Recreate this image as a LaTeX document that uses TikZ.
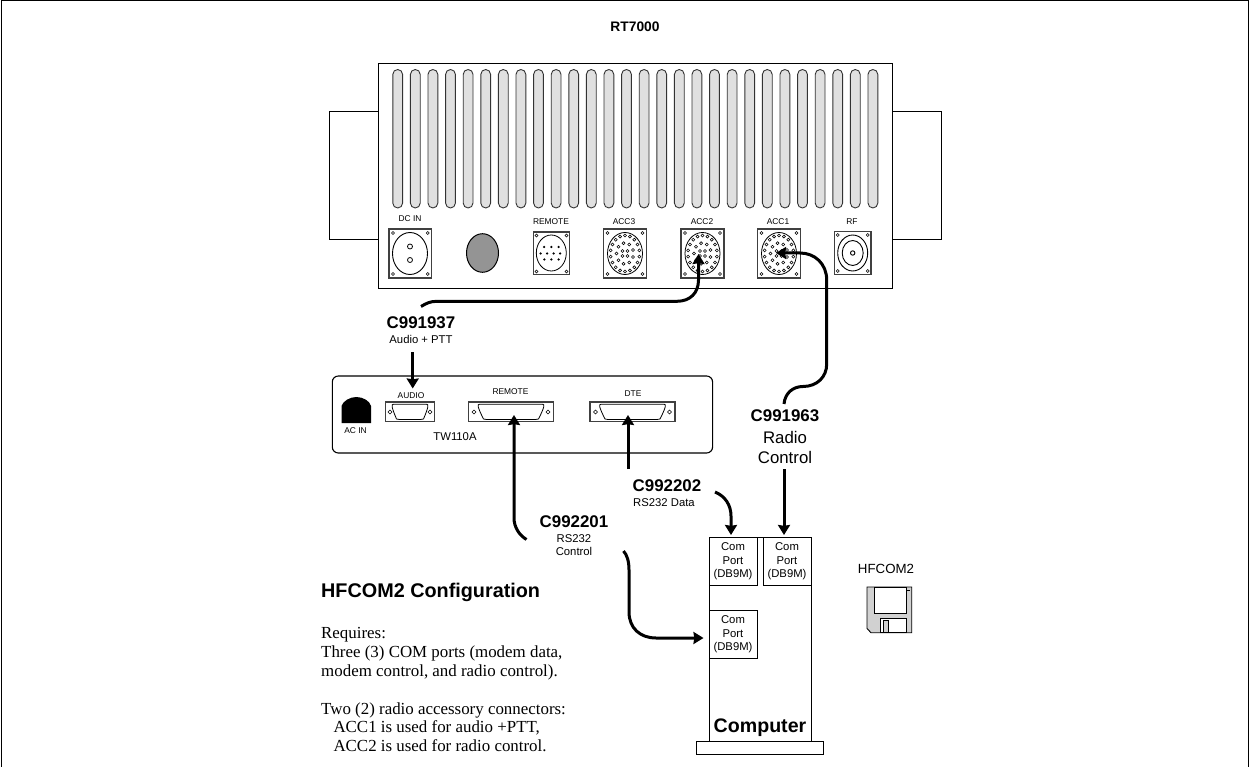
\documentclass[tikz,border=0pt]{standalone}
\usepackage{fontspec}
\setmainfont{Liberation Sans}
\newfontfamily\serifnotes{Liberation Serif}
\usetikzlibrary{arrows.meta}
\tikzset{
  lbl/.style={inner sep=0pt,align=center,font=\fontsize{#1}{#1}\selectfont},
  blbl/.style={inner sep=0pt,align=center,font=\fontsize{#1}{#1}\selectfont\bfseries},
  line/.style={draw=black,line width=1pt},
  plate/.style={draw=black!75,line width=1.1pt,fill=white},
  pin/.style={draw=black,line width=.55pt,fill=white},
  slot/.style={draw=black!80,line width=.9pt,fill=black!12,rounded corners=4.9pt},
  wire/.style={draw=black,line width=3pt},
  wirearrow/.style={wire,-{Stealth[inset=.8pt,length=10pt,width=12pt]}},
  combox/.style={draw=black,line width=1pt,fill=white,minimum width=48pt,minimum height=48pt,inner sep=0pt,align=center,font=\fontsize{11.3}{13.6}\selectfont},
}
\newcommand{\screws}[5]{% x1 x2 y1 y2 r
  \foreach \sx in {#1,#2}\foreach \sy in {#3,#4}\draw[pin] (\sx,\sy) circle (#5);
}
\newcommand{\accconn}[2]{% cx cy
  \draw[plate] (#1-21.5,#2-24.5) rectangle (#1+21.5,#2+24.5);
  \screws{#1-17.5}{#1+17.5}{#2-20.5}{#2+20.5}{1.5}
  \draw[line width=.8pt] (#1,#2) ellipse [x radius=17.5,y radius=21];
  \foreach \a in {0,20,...,340}\draw[pin] ({#1+14.5*cos(\a+10)},{#2+18*sin(\a+10)}) circle (1.5);
  \foreach \a in {0,40,...,320}\draw[pin] ({#1+8.5*cos(\a+20)},{#2+10.5*sin(\a+20)}) circle (1.5);
  \foreach \a in {45,135,225,315}\draw[pin] ({#1+3.5*cos(\a)},{#2+3.5*sin(\a)}) circle (1.5);
}
\newcommand{\dbconn}[7]{% plate x1 x2, y1 y2, shell top inset, bottom inset, screw inset
  \draw[plate] (#1,#3) rectangle (#2,#4);
  \draw[line width=.8pt] (#1+#5,#3+2.2) -- (#2-#5,#3+2.2) .. controls (#2-#5+2.5,#3+2.2) and (#2-#5+2,#3+5) .. (#2-#6,#4-2.5) .. controls (#2-#6-1,#4-2) .. (#2-#6-3,#4-2) -- (#1+#6+3,#4-2) .. controls (#1+#6+1,#4-2) .. (#1+#6,#4-2.5) .. controls (#1+#5-2,#3+5) and (#1+#5-2.5,#3+2.2) .. (#1+#5,#3+2.2) -- cycle;
  \draw[pin] (#1+#7,#3+10) circle (1.9);
  \draw[pin] (#2-#7,#3+10) circle (1.9);
}
\begin{document}
\begin{tikzpicture}[x=1pt,y=-1pt]
\useasboundingbox (0,0) rectangle (1250,767);
\fill[white] (0,0) rectangle (1250,767);
% frame
\draw[line] (1.2,767) -- (1.2,1) -- (1248.5,1) -- (1248.5,767);

% radio
\node[blbl=13.8] (rt) at (635,27) {RT7000};
\draw[line,fill=white] (329.5,111.5) rectangle (378,240);
\draw[line,fill=white] (892,111.5) rectangle (941,240);
\draw[line,fill=white] (378,63.5) rectangle (892,288.5);
\foreach \i in {0,...,27}{
  \path[slot] ({397.7+17.6*\i-4.9},69.5) rectangle ({397.7+17.6*\i+4.9},208);
}
% DC IN
\node[lbl=8.4] (ldc) at (410,219) {DC IN};
\draw[plate] (389,229) rectangle (431.7,278);
\screws{393}{427.7}{233}{274}{1.5}
\draw[line width=.9pt] (410,253.5) ellipse [x radius=17.5,y radius=21];
\draw[line width=.8pt] (410,246.5) circle (2.5);
\draw[line width=.8pt] (410,260) circle (2.5);
% blank plug
\draw[line width=1pt,fill=black!42] (482.5,253) ellipse [x radius=16,y radius=19.3];
% REMOTE
\node[lbl=8.4] (lrm) at (551,222) {REMOTE};
\draw[plate] (533.3,232) rectangle (569.7,274.5);
\screws{536.5}{566.5}{235.5}{271.5}{1.5}
\draw[line width=.8pt] (551.3,253) ellipse [x radius=15,y radius=18];
\foreach \px/\py in {544/247,551.3/247,558.5/247,540.5/253.5,547/253.5,553.5/253.5,560/253.5,544.3/259.5,551.3/259.5,558.5/259.5}
  \fill (\px,\py) circle (1.25);
% ACC
\node[lbl=8.4] (la3) at (624,222) {ACC3};
\node[lbl=8.4] (la2) at (702,222) {ACC2};
\node[lbl=8.4] (la1) at (778,222) {ACC1};
\node[lbl=8.4] (lrf) at (852,222) {RF};
\accconn{625}{253.5}
\accconn{702.5}{253.5}
\accconn{779}{253.5}
% RF
\draw[plate] (834.7,231.5) rectangle (871,274.5);
\screws{837.7}{867.7}{235}{271}{1.5}
\draw[line width=.9pt] (852.7,253) ellipse [x radius=15,y radius=18];
\draw[line width=.9pt] (852.7,253) ellipse [x radius=10.5,y radius=12.5];
\draw[line width=.9pt] (852.7,253) circle (2.2);

% modem
\draw[line width=1.1pt,fill=white,rounded corners=6pt] (332.3,376) rectangle (712.6,453);
\fill (341.5,423) -- (341.5,406) .. controls (343,401) and (350,397) .. (356.3,397) .. controls (363,397) and (370,401) .. (371,406) -- (371,423) -- cycle;
\node[lbl=8.4] (lac) at (355.5,431) {AC IN};
\node[lbl=8.4] (laud) at (411,395.5) {AUDIO};
\node[lbl=8.4] (lrem) at (510.5,392) {REMOTE};
\node[lbl=8.4] (ldte) at (633,393.5) {DTE};
\node[lbl=11.3] (tw) at (455,437) {TW110A};
\dbconn{385.5}{434.5}{402}{421.5}{8}{11}{4.5}
\dbconn{468.5}{553.5}{402}{421.5}{11}{15}{5.5}
\dbconn{590}{675}{402}{421.5}{11}{15}{5.5}

% computer
\draw[line,fill=white] (709,537.5) rectangle (811,741);
\draw[line,fill=white] (696,741) rectangle (823.5,754.5);
\node[combox] (com1) at (733,561.5) {Com\\Port\\(DB9M)};
\node[combox] (com2) at (787,561.5) {Com\\Port\\(DB9M)};
\node[combox] (com3) at (733,634.5) {Com\\Port\\(DB9M)};
\node[blbl=19.6] (pc) at (760,728) {Computer};

% floppy
\node[lbl=13.3] (hf) at (886,569) {HFCOM2};
\draw[line width=.9pt,fill=black!18] (867,587) -- (911.7,587) -- (911.7,632.7) -- (871,632.7) -- (867,628.5) -- cycle;
\draw[line width=.9pt,fill=white] (874,587) rectangle (906.5,613.5);
\draw[line width=.7pt] (906.5,590.5) -- (909.5,590.5);
\draw[line width=.9pt,fill=white] (880.5,618.5) rectangle (906.5,632.7);
\draw[line width=.8pt,fill=black!18] (883.5,620.5) rectangle (888,632.7);

% cable labels
\node[blbl=16.9] (c37) at (421,323) {C991937};
\node[lbl=11.3] (c37s) at (421,339) {Audio + PTT};
\node[blbl=16.9] (c63) at (785,416) {C991963};
\node[lbl=16.8,align=center,font=\fontsize{16.8}{20}\selectfont] (c63s) at (785,447) {Radio\\Control};
\node[blbl=16.9] (c02) at (667,486) {C992202};
\node[lbl=11.3] (c02s) at (664,503) {RS232 Data};
\node[blbl=16.9] (c01) at (574,522) {C992201};
\node[lbl=11.3,font=\fontsize{11.3}{12.5}\selectfont] (c01s) at (574,545) {RS232\\Control};

% wire ends
\coordinate (a2pin) at (698.5,254);
\coordinate (a1pin) at (776,253);
\coordinate (w37) at (421,306.5);
\coordinate (audiotop) at (412.7,352);
\coordinate (audiopin) at (412.7,388.5);
\coordinate (w63) at (784,404);
\coordinate (w63b) at (784,469);
\coordinate (remotepin) at (514,415);
\coordinate (w01a) at (526.5,539.5);
\coordinate (w01b) at (623.5,551);
\coordinate (w01c) at (656,638);
\coordinate (dtepin) at (628,415);
\coordinate (w02a) at (628,469);
\coordinate (w02b) at (715,492);
\coordinate (w02c) at (731,516);

% wires
\draw[wirearrow] (w37) .. controls (426,303.5) and (430,301.3) .. (437,301.3) -- (677,301.3) .. controls (690,301.3) and (698.5,293) .. (698.5,280) -- (a2pin);
\draw[wirearrow] (w63) .. controls (785,393) and (793,386.5) .. (803,386.5) .. controls (817,386.5) and (826.7,377) .. (826.7,364) -- (826.7,280) .. controls (826.7,264) and (815,253) .. (800,253) -- (a1pin);
\draw[wirearrow,shorten >=2pt] (w63b) -- (com2.north -| w63b);
\draw[wirearrow] (audiotop) -- (audiopin);
\draw[wirearrow] (w01a) .. controls (519,535) and (514,527) .. (514,518) -- (remotepin);
\draw[wirearrow,shorten >=5pt] (w01b) .. controls (627,555) and (629,561) .. (629,570) -- (629,612) .. controls (629,628) and (640,638) .. (w01c) -- (com3.west |- w01c);
\draw[wirearrow] (w02a) -- (dtepin);
\draw[wirearrow,shorten >=2pt] (w02b) .. controls (725,496) and (731,505) .. (w02c) -- (com1.north -| w02c);

% notes
\node[blbl=19.8,anchor=west] (cfg) at (321,592) {HFCOM2 Configuration};
\node[anchor=north west,inner sep=0pt,align=left,font=\serifnotes\fontsize{16.9}{18.8}\selectfont] (notes) at (321,627.5) {Requires:\\Three (3) COM ports (modem data,\\modem control, and radio control).\\[18.8pt]Two (2) radio accessory connectors:\\\hspace*{12.3pt}ACC1 is used for audio +PTT,\\\hspace*{12.3pt}ACC2 is used for radio control.};
\end{tikzpicture}
\end{document}
